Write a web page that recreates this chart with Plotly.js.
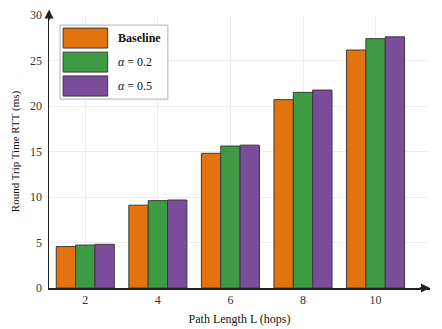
<!DOCTYPE html>
<html>
<head>
<meta charset="utf-8">
<script src="https://cdn.plot.ly/plotly-3.0.1.min.js"></script>
<style>
  body { margin: 0; background: #fff; }
  #graph { width: 442px; height: 329px; }
</style>
</head>
<body>
<div id="graph"></div>
<script>
var pathLengths = [2, 4, 6, 8, 10];
var baseline = [4.55, 9.1, 14.8, 20.7, 26.15];
var alpha02 = [4.72, 9.6, 15.6, 21.5, 27.4];
var alpha05 = [4.8, 9.67, 15.7, 21.75, 27.6];

var seriesNames = ['<b>Baseline</b>', '<i>α</i> = 0.2', '<i>α</i> = 0.5'];
var seriesColors = ['#e2730f', '#3e9b43', '#7a4c9a'];

function plot() {
    var graphDocument = document.getElementById('graph');
    var font = 'Liberation Serif, Times New Roman, serif';

    var data = [baseline, alpha02, alpha05].map(function (values, i) {
        return {
            x: pathLengths,
            y: values,
            name: seriesNames[i],
            type: 'bar',
            marker: {color: seriesColors[i], line: {color: '#3a3a3a', width: 1}},
            showlegend: false,
        };
    });

    // hand made legend with big swatches
    var shapes = [{
        type: 'rect', xref: 'paper', yref: 'paper',
        x0: 0.029, x1: 0.312, y0: 0.692, y1: 0.963,
        line: {color: '#b0b0b0', width: 1}, fillcolor: '#ffffff',
    }];
    var annotations = [];
    var rows = [[0.952, 0.879], [0.864, 0.791], [0.777, 0.703]];
    rows.forEach(function (r, i) {
        shapes.push({
            type: 'rect', xref: 'paper', yref: 'paper',
            x0: 0.037, x1: 0.154, y0: r[1], y1: r[0],
            line: {color: '#3a3a3a', width: 1}, fillcolor: seriesColors[i],
        });
        annotations.push({
            xref: 'paper', yref: 'paper', x: 0.175, y: (r[0] + r[1]) / 2,
            text: seriesNames[i], showarrow: false, xanchor: 'left', yanchor: 'middle',
            font: {family: font, size: 12, color: '#111'},
        });
    });

    // axis arrow heads
    annotations.push({
        xref: 'paper', yref: 'paper', x: 0, y: 1.02, ax: 0, ay: 12,
        text: '', showarrow: true, arrowhead: 2, arrowsize: 1.2, arrowwidth: 1.5, arrowcolor: '#222',
    });
    annotations.push({
        xref: 'paper', yref: 'paper', x: 1.0, y: 0, ax: -12, ay: 0,
        text: '', showarrow: true, arrowhead: 2, arrowsize: 1.2, arrowwidth: 1.5, arrowcolor: '#222',
    });

    var layout = {
        width: 442,
        height: 329,
        margin: {l: 49, r: 12, t: 15, b: 41},
        paper_bgcolor: '#ffffff',
        plot_bgcolor: '#ffffff',
        font: {family: font, size: 12, color: '#333'},
        barmode: 'group',
        bargap: 0.2,
        bargroupgap: 0,
        xaxis: {
            title: {text: 'Path Length L (hops)', font: {size: 12, color: '#111'}, standoff: 8},
            range: [1, 11.5],
            tickvals: pathLengths,
            showgrid: true,
            gridcolor: '#eeeeee',
            zeroline: false,
            showline: true,
            linecolor: '#222',
            linewidth: 1.5,
            ticks: '',
            tickfont: {size: 12, color: '#333'},
        },
        yaxis: {
            title: {text: 'Round Trip Time RTT (ms)', font: {size: 11, color: '#111'}, standoff: 8},
            range: [0, 30],
            dtick: 5,
            showgrid: true,
            gridcolor: '#eeeeee',
            zeroline: false,
            showline: true,
            linecolor: '#222',
            linewidth: 1.5,
            ticks: '',
            ticklabelstandoff: 3,
            tickfont: {size: 12, color: '#333'},
        },
        shapes: shapes,
        annotations: annotations,
    };

    Plotly.newPlot(graphDocument, data, layout, {displayModeBar: false, staticPlot: true});
}

plot();
</script>
</body>
</html>
